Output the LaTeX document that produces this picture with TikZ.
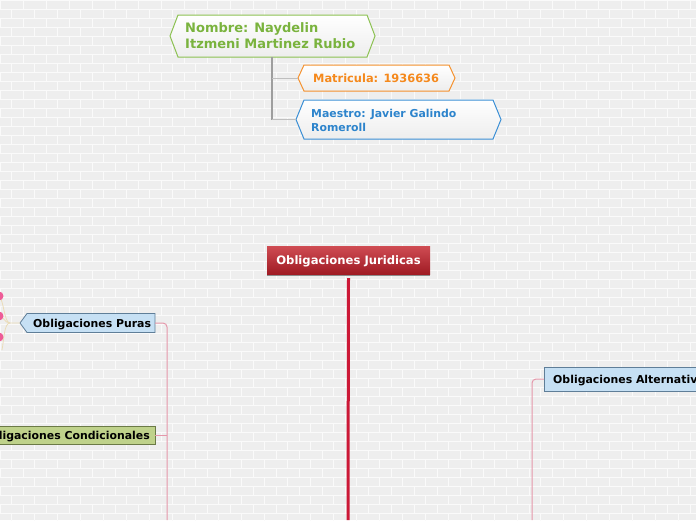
\documentclass[tikz,border=0pt]{standalone}
\usepackage{fontspec}
\setmainfont{DejaVu Sans}
\usetikzlibrary{calc}
\pgfdeclarelayer{bricks}
\pgfdeclarelayer{shapes}
\pgfsetlayers{bricks,shapes,main}
\definecolor{bgc}{HTML}{EEEEEE}
\definecolor{mortar}{HTML}{FAFAFA}
\definecolor{greenc}{HTML}{8CC152}
\definecolor{greent}{HTML}{7AB33E}
\definecolor{orangec}{HTML}{F5922F}
\definecolor{oranget}{HTML}{F5891C}
\definecolor{bluec}{HTML}{3B8FD5}
\definecolor{bluet}{HTML}{2D84CC}
\definecolor{redtop}{HTML}{CF4C53}
\definecolor{redbot}{HTML}{A01B24}
\definecolor{redline}{HTML}{CC1836}
\definecolor{lblue}{HTML}{C6E0F4}
\definecolor{lblueb}{HTML}{5F7E98}
\definecolor{olive}{HTML}{BFD28B}
\definecolor{oliveb}{HTML}{6B7A46}
\definecolor{pinkl}{HTML}{E597AA}
\definecolor{pinkdot}{HTML}{EE5C97}
\definecolor{tanl}{HTML}{EADCB8}
\tikzset{
  txt/.style={inner sep=0pt, font=\bfseries, align=left},
  hexbox/.style={line width=1pt, top color=white, bottom color=white!93!black},
  graylink/.style={draw=black!38, line width=1.6pt},
  graybranch/.style={draw=black!25, line width=1pt},
  pinklink/.style={draw=pinkl, line width=1pt, rounded corners=4pt},
  tanlink/.style={draw=tanl, line width=0.8pt},
}
\begin{document}
\begin{tikzpicture}[x=1pt,y=-1pt]
\useasboundingbox (0,0) rectangle (696,520);
% brick background
\begin{pgfonlayer}{bricks}
\fill[bgc] (0,0) rectangle (696,520);
\foreach \r in {0,...,58}{
  \pgfmathsetmacro{\yy}{\r*9}
  \draw[mortar, line width=0.8pt] (0,\yy) -- (696,\yy);
  \pgfmathsetmacro{\off}{mod(\r,2)*11.5}
  \foreach \c in {0,...,30}{
    \pgfmathsetmacro{\xx}{\c*23+\off}
    \draw[mortar, line width=0.8pt] (\xx,\yy) -- (\xx,\yy+9);
  }
}
\end{pgfonlayer}

% ---------- top info group ----------
\node[txt, text=greent, font=\bfseries\fontsize{13}{16}\selectfont, anchor=west] (nombre) at (185,36) {Nombre: Naydelin\\Itzmeni Martinez Rubio};
\node[txt, text=oranget, font=\bfseries\fontsize{11.4}{13}\selectfont, anchor=base west] (matricula) at (313,82) {Matricula: 1936636};
\node[txt, text=bluet, font=\bfseries\fontsize{10.9}{14}\selectfont, anchor=west] (maestro) at (311,120) {Maestro: Javier Galindo\\Romeroll};

\coordinate (nomL) at (170,36);
\coordinate (matL) at (298,78);
\coordinate (maeL) at (296,119.5);
\coordinate (trunk) at (272,57);
\coordinate (j1) at (272,78);
\coordinate (j2) at (272,119.5);

\begin{pgfonlayer}{shapes}
\draw[hexbox, draw=greenc] (178,15) -- (367,15) -- (375,36) -- (367,57) -- (178,57) -- (nomL) -- cycle;
\draw[hexbox, draw=orangec] (304,65) -- (449,65) -- (455,78) -- (449,91) -- (304,91) -- (matL) -- cycle;
\draw[hexbox, draw=bluec] (304,100) -- (493,100) -- (501,119.5) -- (493,139) -- (304,139) -- (maeL) -- cycle;
\draw[graylink] (trunk) -- (j2);
\draw[graybranch] (j1) -- (matL);
\draw[graybranch] (j2) -- (maeL);
\end{pgfonlayer}

% ---------- central topic ----------
\node[rectangle, minimum width=163pt, minimum height=28pt, top color=redtop, bottom color=redbot, inner sep=0pt] (jur) at (348.5,260) {};
\node[txt, text=white, font=\bfseries\fontsize{11.6}{13}\selectfont, anchor=base] (jurt) at (348.5,264.2) {Obligaciones Juridicas};
\draw[black!45, line width=1.4pt] ($(jur.south west)+(0,1.2)$) -- ($(jur.south east)+(0,1.2)$);
\coordinate (jbottom) at (348,520);
\draw[redline, line width=3pt] ($(jur.south)+(0,4)$) -- (jbottom);

% ---------- Obligaciones Puras ----------
\node[txt, font=\bfseries\fontsize{10.9}{12}\selectfont, anchor=base west] (puras) at (33,327) {Obligaciones Puras};
\coordinate (purasL) at (20,323);
\coordinate (purasR) at (155,323);
\begin{pgfonlayer}{shapes}
\draw[fill=lblue, draw=lblueb, line width=0.8pt] (27,313.5) -- (155,313.5) -- (155,332.5) -- (27,332.5) -- (purasL) -- cycle;
\end{pgfonlayer}
\coordinate (pbot) at (167,520);
\draw[pinklink] (purasR) -- (167,323) -- (pbot);

% left side children (cut)
\coordinate (c1) at (-1,296);
\coordinate (c2) at (-1,316);
\coordinate (c3) at (-1,337);
\draw[tanlink] (purasL) -- (10,323) .. controls (4,323) and (4,300) .. (c1);
\draw[tanlink] (10,323) .. controls (4,323) and (4,316) .. (c2);
\draw[tanlink] (10,323) .. controls (4,323) and (4,340) .. (2,350);
\foreach \c in {c1,c2,c3}{
  \fill[pinkdot] (\c) circle (4.5);
}

% ---------- Obligaciones Condicionales ----------
\node[txt, font=\bfseries\fontsize{10.9}{12}\selectfont, anchor=base east] (cond) at (150,439) {Obligaciones Condicionales};
\coordinate (condR) at (155,435);
\begin{pgfonlayer}{shapes}
\draw[fill=olive, draw=oliveb, line width=0.8pt] (-5,426) rectangle (155,444);
\end{pgfonlayer}
\draw[pinklink, rounded corners=0pt] (condR) -- (167,435);

% ---------- Obligaciones Alternativas ----------
\node[txt, font=\bfseries\fontsize{10.9}{12}\selectfont, anchor=base west] (alt) at (553,383) {Obligaciones Alternativas};
\coordinate (altL) at (544,379);
\begin{pgfonlayer}{shapes}
\draw[fill=lblue, draw=lblueb, line width=0.8pt] (544,367) rectangle (710,391);
\end{pgfonlayer}
\coordinate (abot) at (532,520);
\draw[pinklink] (altL) -- (532,379) -- (abot);
\end{tikzpicture}
\end{document}
